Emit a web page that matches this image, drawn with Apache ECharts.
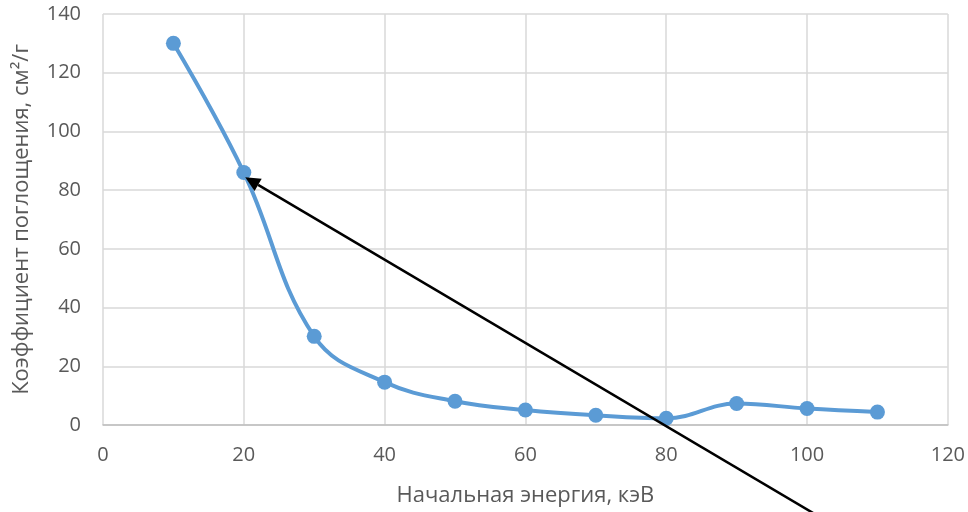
<!DOCTYPE html>
<html>
<head>
<meta charset="utf-8">
<script src="https://cdn.jsdelivr.net/npm/echarts@6/dist/echarts.min.js"></script>
<style>html,body{margin:0;padding:0;background:#fff}#c{width:968px;height:512px}</style>
</head>
<body>
<div id="c"></div>
<script>
// Data
var energies = [10, 20, 30, 40, 50, 60, 70, 80, 90, 100, 110];
var coefficients = [130, 86, 30.2, 14.6, 8.1, 5.1, 3.3, 2.3, 7.3, 5.6, 4.4];
var xAxisName = 'Начальная энергия, кэВ';
var yAxisName = 'Коэффициент поглощения, см²/г';
// Annotation arrow (data coordinates): from tail to head
var arrowTail = [104.4, -35];
var arrowHead = [20.2, 84.4];

var chart = echarts.init(document.getElementById('c'));
var font = 'Open Sans';
var txt = '#595959';
var option = {
  animation: false,
  grid: {left: 103, right: 20, top: 14, bottom: 85},
  xAxis: {
    type: 'value', min: 0, max: 120, interval: 20,
    name: xAxisName, nameLocation: 'middle', nameGap: 60,
    nameTextStyle: {color: txt, fontFamily: font, fontSize: 22},
    axisLine: {show: true, lineStyle: {color: '#BFBFBF', width: 1.5}},
    axisTick: {show: false},
    axisLabel: {color: txt, fontFamily: font, fontSize: 20, margin: 20},
    splitLine: {show: true, lineStyle: {color: '#D9D9D9', width: 1.5}}
  },
  yAxis: {
    type: 'value', min: 0, max: 140, interval: 20,
    name: yAxisName, nameLocation: 'middle', nameGap: 70,
    nameTextStyle: {color: txt, fontFamily: font, fontSize: 22},
    axisLine: {show: false},
    axisTick: {show: false},
    axisLabel: {color: txt, fontFamily: font, fontSize: 20, margin: 22},
    splitLine: {show: true, lineStyle: {color: '#D9D9D9', width: 1.5}}
  },
  series: [{
    type: 'line',
    data: energies.map(function (e, i) { return [e, coefficients[i]]; }),
    smooth: 0.4,
    symbol: 'circle', symbolSize: 15,
    lineStyle: {color: '#5B9BD5', width: 4},
    itemStyle: {color: '#5B9BD5'}
  }]
};
chart.setOption(option);

// Draw annotation arrow through the chart's scale
var p0 = chart.convertToPixel({gridIndex: 0}, arrowTail);
var p1 = chart.convertToPixel({gridIndex: 0}, arrowHead);
var dx = p1[0] - p0[0], dy = p1[1] - p0[1];
var len = Math.sqrt(dx * dx + dy * dy);
var ux = dx / len, uy = dy / len;
var headLen = 15, headW = 7;
var bx = p1[0] - ux * headLen, by = p1[1] - uy * headLen;
chart.setOption({
  graphic: [
    {type: 'line', shape: {x1: p0[0], y1: p0[1], x2: bx, y2: by},
     style: {stroke: '#000', lineWidth: 2.5}, z: 100},
    {type: 'polygon', shape: {points: [
      [p1[0], p1[1]],
      [bx - uy * headW, by + ux * headW],
      [bx + uy * headW, by - ux * headW]
    ]}, style: {fill: '#000'}, z: 100}
  ]
});
</script>
</body>
</html>
